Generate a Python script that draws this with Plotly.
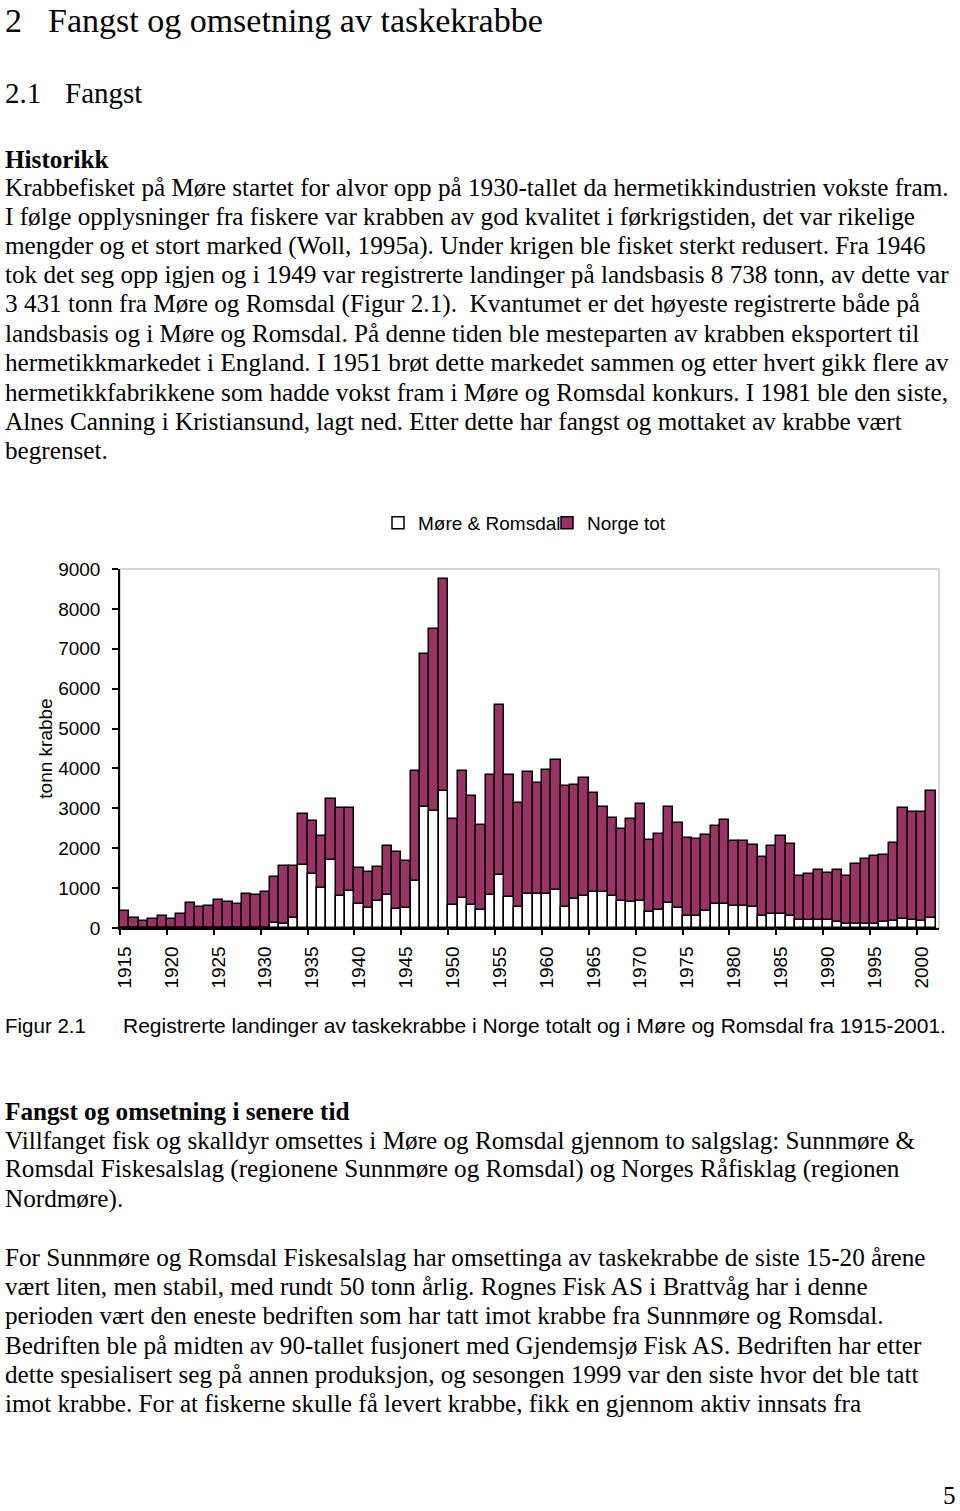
"""Registrerte landinger av taskekrabbe 1915-2001, side med tekst og figur."""

import plotly.graph_objects as go

years = list(range(1915, 2002))

# tonn, hele landet
norge_tot = [
    420, 255, 170, 230, 296, 230, 363, 631, 522, 564,
    714, 656, 606, 840, 815, 907, 1282, 1560, 1560, 2850,
    2680, 2318, 3237, 3012, 3000, 1508, 1399, 1533, 2051, 1901,
    1692, 3930, 6872, 7499, 8738, 2744, 3930, 3321, 2594, 3830,
    5585, 3830, 3137, 3922, 3638, 3964, 4223, 3555, 3597, 3764,
    3388, 3037, 2761, 2494, 2736, 3103, 2201, 2360, 3028, 2628,
    2260, 2230, 2343, 2569, 2719, 2193, 2176, 2076, 1784, 2068,
    2301, 2109, 1316, 1358, 1449, 1383, 1466, 1316, 1600, 1742,
    1800, 1842, 2135, 3003, 2912, 2900, 3446,
]

# tonn, Møre og Romsdal
more_romsdal = [
    0, 0, 0, 0, 0, 0, 0, 0, 0, 0,
    0, 0, 0, 0, 0, 0, 113, 95, 240, 1580,
    1350, 1007, 1700, 798, 940, 614, 493, 672, 815, 464,
    497, 1182, 3037, 2928, 3431, 585, 752, 585, 440, 825,
    1320, 773, 530, 865, 840, 865, 965, 530, 731, 798,
    898, 906, 798, 672, 647, 672, 405, 439, 631, 505,
    313, 296, 422, 614, 614, 547, 547, 522, 313, 363,
    346, 296, 196, 196, 196, 196, 163, 105, 105, 88,
    96, 146, 171, 230, 205, 180, 263,
]

label_years = list(range(1915, 2001, 5))
y_ticks = list(range(0, 9001, 1000))

heading = "2"
heading_text = "Fangst og omsetning av taskekrabbe"
sub_num = "2.1"
sub_text = "Fangst"

historikk_lines = [
    "Krabbefisket på Møre startet for alvor opp på 1930-tallet da hermetikkindustrien vokste fram.",
    "I følge opplysninger fra fiskere var krabben av god kvalitet i førkrigstiden, det var rikelige",
    "mengder og et stort marked (Woll, 1995a). Under krigen ble fisket sterkt redusert. Fra 1946",
    "tok det seg opp igjen og i 1949 var registrerte landinger på landsbasis 8 738 tonn, av dette var",
    "3 431 tonn fra Møre og Romsdal (Figur 2.1).  Kvantumet er det høyeste registrerte både på",
    "landsbasis og i Møre og Romsdal. På denne tiden ble mesteparten av krabben eksportert til",
    "hermetikkmarkedet i England. I 1951 brøt dette markedet sammen og etter hvert gikk flere av",
    "hermetikkfabrikkene som hadde vokst fram i Møre og Romsdal konkurs. I 1981 ble den siste,",
    "Alnes Canning i Kristiansund, lagt ned. Etter dette har fangst og mottaket av krabbe vært",
    "begrenset.",
]

senere_lines = [
    "Villfanget fisk og skalldyr omsettes i Møre og Romsdal gjennom to salgslag: Sunnmøre &",
    "Romsdal Fiskesalslag (regionene Sunnmøre og Romsdal) og Norges Råfisklag (regionen",
    "Nordmøre).",
    "",
    "For Sunnmøre og Romsdal Fiskesalslag har omsettinga av taskekrabbe de siste 15-20 årene",
    "vært liten, men stabil, med rundt 50 tonn årlig. Rognes Fisk AS i Brattvåg har i denne",
    "perioden vært den eneste bedriften som har tatt imot krabbe fra Sunnmøre og Romsdal.",
    "Bedriften ble på midten av 90-tallet fusjonert med Gjendemsjø Fisk AS. Bedriften har etter",
    "dette spesialisert seg på annen produksjon, og sesongen 1999 var den siste hvor det ble tatt",
    "imot krabbe. For at fiskerne skulle få levert krabbe, fikk en gjennom aktiv innsats fra",
]

caption_label = "Figur 2.1"
caption_text = "Registrerte landinger av taskekrabbe i Norge totalt og i Møre og Romsdal fra 1915-2001."

SERIF = "Liberation Serif, Times New Roman, serif"
SANS = "Liberation Sans, Arial, sans-serif"
PLUM = "#993366"
BODY = 25.2
LINE = 29.3

# plot area in page pixels
L, R, T, B = 120, 21, 569, 583
W, H = 960, 1511
PW = W - L - R
PH = H - T - B


def px_x(x):
    return (x - L) / PW


def px_y(y):
    return (H - B - y) / PH


def text_at(x, y, text, size, family=SERIF, bold=False, anchor="left", yanchor="middle"):
    if bold:
        text = f"<b>{text}</b>"
    return dict(
        text=text, x=px_x(x), y=px_y(y), xref="paper", yref="paper",
        xanchor=anchor, yanchor=yanchor, showarrow=False,
        font=dict(family=family, size=size, color="black"),
    )


fig = go.Figure()
fig.add_trace(go.Bar(
    x=years, y=norge_tot, name="Norge tot",
    marker=dict(color=PLUM, line=dict(color="black", width=1.5)),
))
fig.add_trace(go.Bar(
    x=years, y=more_romsdal, name="Møre & Romsdal",
    marker=dict(color="white", line=dict(color="black", width=1.5)),
))

annotations = [
    text_at(3, 0, heading, 34, yanchor="top"),
    text_at(46, 0, heading_text, 34, yanchor="top"),
    text_at(3, 93, sub_num, 29),
    text_at(63, 93, sub_text, 29),
    text_at(3, 160, "Historikk", BODY, bold=True),
]
for i, line in enumerate(historikk_lines):
    annotations.append(text_at(3, 187 + i * LINE, line, BODY))

annotations.append(text_at(3, 1025, caption_label, 20.5, family=SANS))
annotations.append(text_at(121, 1025, caption_text, 21, family=SANS))

annotations.append(text_at(3, 1111, "Fangst og omsetning i senere tid", BODY, bold=True))
for i, line in enumerate(senere_lines):
    if line:
        annotations.append(text_at(3, 1140 + i * LINE, line, BODY))
annotations.append(text_at(958, 1511, "5", BODY, anchor="right", yanchor="bottom"))

fig.update_layout(
    width=W,
    height=H,
    margin=dict(l=L, r=R, t=T, b=B, autoexpand=False),
    paper_bgcolor="white",
    plot_bgcolor="white",
    barmode="overlay",
    bargap=0,
    font=dict(family=SANS, size=19, color="black"),
    showlegend=True,
    legend=dict(
        orientation="h",
        traceorder="reversed",
        x=px_x(378),
        y=px_y(523),
        xanchor="left",
        yanchor="middle",
        font=dict(family=SANS, size=19),
        itemwidth=30,
        entrywidth=124,
        bgcolor="rgba(0,0,0,0)",
    ),
    annotations=annotations,
    shapes=[dict(
        type="rect", xref="paper", yref="paper", x0=0, x1=1, y0=0, y1=1,
        line=dict(color="#c8c8c8", width=1.5), layer="below",
    )],
)

fig.update_xaxes(
    range=[1914.5, 2001.86],
    tickmode="array",
    tickvals=label_years,
    ticktext=[str(y) for y in label_years],
    tickangle=-90,
    ticks="outside",
    ticklen=9,
    tickcolor="rgba(0,0,0,0)",
    minor=dict(tick0=1914.5, dtick=5, ticks="outside", ticklen=5,
               tickcolor="black", tickwidth=1.5),
    showline=True,
    linecolor="black",
    linewidth=1.5,
    showgrid=False,
    zeroline=False,
    tickfont=dict(family=SANS, size=19),
)
fig.update_yaxes(
    range=[0, 9000],
    tickvals=y_ticks,
    ticks="outside",
    ticklen=6,
    tickwidth=1.5,
    tickcolor="black",
    ticklabelstandoff=8,
    showline=True,
    linecolor="black",
    linewidth=1.5,
    showgrid=False,
    zeroline=False,
    tickfont=dict(family=SANS, size=19),
    title=dict(text="tonn krabbe", font=dict(family=SANS, size=19), standoff=1),
)

# the page itself has no margin, so the figure fills the window exactly
fig.write_html(
    "out.html",
    config={"displayModeBar": False},
    post_script="document.body.style.margin = '0';",
)
